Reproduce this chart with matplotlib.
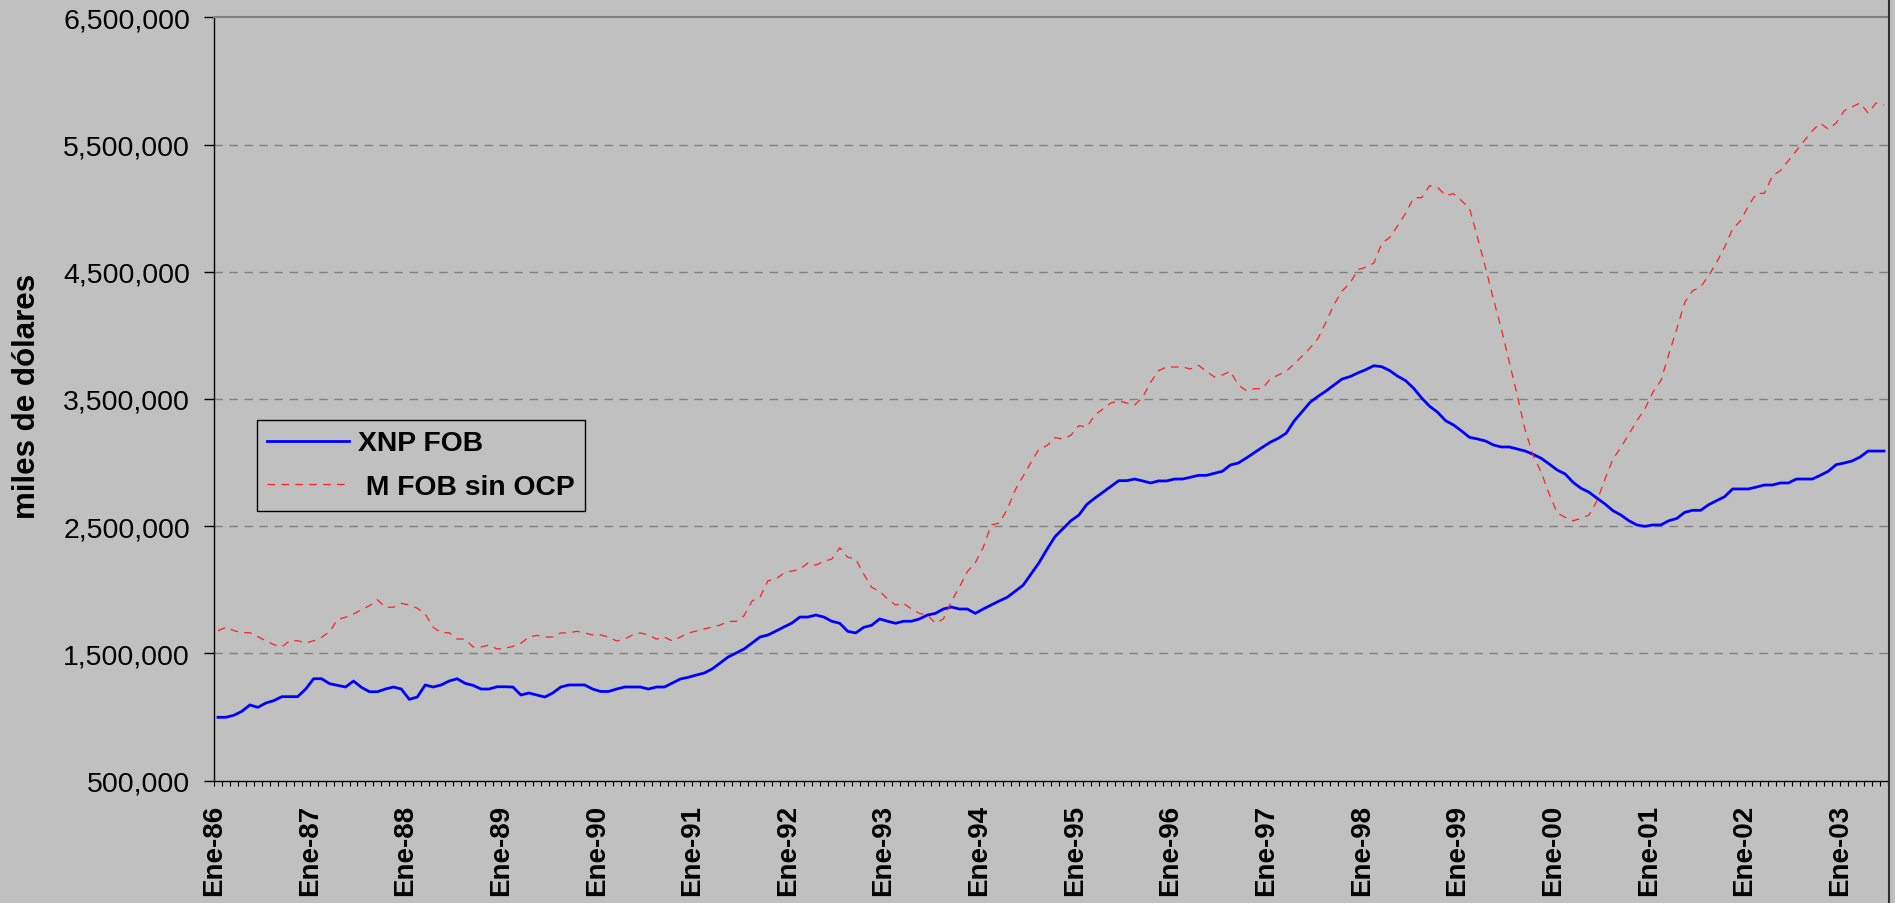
import numpy as np
import matplotlib
matplotlib.use("Agg")
import matplotlib.pyplot as plt
from matplotlib.ticker import FuncFormatter, MultipleLocator
from matplotlib.lines import Line2D

# ============ DATA (millones de miles de dólares, mensual Ene-86 ... Jun-03) ============
xnp_fob = [
    0.997, 0.997, 1.013, 1.044, 1.094, 1.075, 1.109, 1.128, 1.159, 1.159, 1.159, 1.219,
    1.300, 1.300, 1.261, 1.248, 1.235, 1.282, 1.232, 1.198, 1.198, 1.219, 1.235, 1.219,
    1.138, 1.156, 1.251, 1.235, 1.251, 1.282, 1.300, 1.264, 1.248, 1.219, 1.219, 1.237,
    1.237, 1.235, 1.172, 1.188, 1.172, 1.156, 1.188, 1.235, 1.251, 1.251, 1.251, 1.219,
    1.200, 1.200, 1.219, 1.235, 1.235, 1.235, 1.219, 1.235, 1.235, 1.266, 1.298, 1.311,
    1.329, 1.345, 1.377, 1.424, 1.471, 1.502, 1.534, 1.581, 1.628, 1.644, 1.675, 1.707,
    1.738, 1.785, 1.785, 1.801, 1.785, 1.752, 1.736, 1.673, 1.660, 1.704, 1.720, 1.770,
    1.752, 1.736, 1.752, 1.752, 1.770, 1.801, 1.814, 1.848, 1.864, 1.848, 1.848, 1.814,
    1.848, 1.880, 1.911, 1.940, 1.987, 2.035, 2.123, 2.212, 2.318, 2.417, 2.480, 2.542,
    2.587, 2.671, 2.720, 2.766, 2.813, 2.857, 2.857, 2.870, 2.855, 2.839, 2.855, 2.855,
    2.870, 2.870, 2.884, 2.899, 2.899, 2.915, 2.931, 2.980, 2.996, 3.035, 3.077, 3.119,
    3.159, 3.190, 3.230, 3.326, 3.399, 3.473, 3.520, 3.562, 3.609, 3.656, 3.675, 3.704,
    3.730, 3.761, 3.753, 3.722, 3.678, 3.643, 3.583, 3.507, 3.442, 3.395, 3.329, 3.295,
    3.248, 3.198, 3.185, 3.169, 3.138, 3.122, 3.122, 3.106, 3.090, 3.064, 3.033, 2.988,
    2.941, 2.910, 2.844, 2.797, 2.766, 2.719, 2.674, 2.621, 2.587, 2.542, 2.509, 2.498,
    2.509, 2.509, 2.542, 2.560, 2.608, 2.624, 2.624, 2.668, 2.700, 2.731, 2.792, 2.792,
    2.792, 2.807, 2.823, 2.823, 2.839, 2.839, 2.870, 2.870, 2.870, 2.899, 2.931, 2.983,
    2.996, 3.012, 3.043, 3.090, 3.090, 3.090,
]

m_fob_sin_ocp = [
    1.678, 1.704, 1.678, 1.662, 1.662, 1.631, 1.599, 1.568, 1.550, 1.599, 1.599, 1.581,
    1.599, 1.626, 1.670, 1.767, 1.783, 1.809, 1.843, 1.874, 1.921, 1.862, 1.862, 1.893,
    1.880, 1.854, 1.809, 1.704, 1.662, 1.662, 1.612, 1.612, 1.550, 1.550, 1.565, 1.534,
    1.539, 1.555, 1.579, 1.628, 1.641, 1.628, 1.628, 1.660, 1.660, 1.673, 1.660, 1.644,
    1.644, 1.628, 1.597, 1.612, 1.644, 1.660, 1.644, 1.612, 1.628, 1.597, 1.628, 1.660,
    1.675, 1.691, 1.707, 1.722, 1.751, 1.751, 1.796, 1.911, 1.943, 2.071, 2.084, 2.131,
    2.147, 2.160, 2.210, 2.194, 2.223, 2.241, 2.330, 2.255, 2.241, 2.123, 2.019, 1.987,
    1.927, 1.880, 1.893, 1.848, 1.814, 1.801, 1.736, 1.770, 1.909, 2.019, 2.142, 2.212,
    2.333, 2.509, 2.524, 2.629, 2.784, 2.892, 3.002, 3.106, 3.133, 3.195, 3.185, 3.214,
    3.290, 3.279, 3.373, 3.421, 3.468, 3.484, 3.468, 3.452, 3.513, 3.631, 3.722, 3.751,
    3.751, 3.751, 3.735, 3.764, 3.717, 3.672, 3.688, 3.717, 3.609, 3.565, 3.580, 3.580,
    3.656, 3.688, 3.717, 3.774, 3.837, 3.900, 3.976, 4.105, 4.241, 4.348, 4.409, 4.516,
    4.535, 4.568, 4.723, 4.770, 4.862, 4.961, 5.082, 5.082, 5.176, 5.163, 5.100, 5.113,
    5.058, 4.998, 4.770, 4.535, 4.285, 4.050, 3.788, 3.525, 3.250, 3.053, 2.923, 2.752,
    2.603, 2.569, 2.542, 2.561, 2.587, 2.700, 2.870, 3.028, 3.119, 3.224, 3.329, 3.421,
    3.552, 3.643, 3.850, 4.050, 4.259, 4.351, 4.380, 4.469, 4.574, 4.692, 4.836, 4.901,
    5.019, 5.116, 5.116, 5.255, 5.294, 5.373, 5.451, 5.530, 5.608, 5.667, 5.622, 5.669,
    5.766, 5.797, 5.826, 5.748, 5.826, 5.811,
]

year_labels = ["Ene-86", "Ene-87", "Ene-88", "Ene-89", "Ene-90", "Ene-91", "Ene-92",
               "Ene-93", "Ene-94", "Ene-95", "Ene-96", "Ene-97", "Ene-98", "Ene-99",
               "Ene-00", "Ene-01", "Ene-02", "Ene-03"]

y_ticks = [500000, 1500000, 2500000, 3500000, 4500000, 5500000, 6500000]

series_names = ["XNP FOB", " M FOB sin OCP"]

# ============ STYLE ============
plt.rcParams['font.family'] = ['Liberation Sans', 'DejaVu Sans']
plt.rcParams['lines.scale_dashes'] = False
BG = '#C0C0C0'

W, H = 1895, 904
fig = plt.figure(figsize=(W / 100, H / 100), dpi=100, facecolor=BG)

# plot area in pixels: left 214, right 1888, top 18, bottom 781.5
left, right, top, bottom = 214, 1888, 18.3, 781.5
ax = fig.add_axes([left / W, 1 - bottom / H, (right - left) / W, (bottom - top) / H])
ax.set_facecolor(BG)

n = len(xnp_fob)
x = np.arange(n) + 0.5

ax.plot(x, np.array(xnp_fob) * 1e6, color='#0000FF', lw=2.0, label=series_names[0],
        solid_joinstyle='round', zorder=3)
ax.plot(x, np.array(m_fob_sin_ocp) * 1e6, color='#FF2020', lw=0.9,
        dashes=(5.5, 4.5), label=series_names[1], zorder=3)

ax.set_xlim(0, n)
ax.set_ylim(y_ticks[0], y_ticks[-1])

# ============ AXES ============
ax.set_yticks(y_ticks)
ax.yaxis.set_major_formatter(FuncFormatter(lambda v, p: f"{int(v):,}"))
ax.tick_params(axis='y', direction='out', length=7.2, width=1, color='black',
               labelsize=20.5, pad=10)

ax.set_xticks(np.arange(0, n, 12))
ax.set_xticklabels(year_labels, rotation=90, fontsize=20, fontweight='bold')
ax.xaxis.set_minor_locator(MultipleLocator(1))
ax.tick_params(axis='x', which='both', direction='out', length=3.6, width=0.8,
               color='black', pad=13)

for yv in y_ticks[1:-1]:
    ax.axhline(yv, color='#808080', lw=1.0, dashes=(6, 4.8), zorder=1)

ax.spines['left'].set_color('black')
ax.spines['bottom'].set_color('black')
ax.spines['left'].set_linewidth(1)
ax.spines['bottom'].set_linewidth(1)
ax.spines['top'].set_color('#808080')
ax.spines['top'].set_linewidth(1.5)
ax.spines['right'].set_visible(False)

# chart border on the right edge
fig.add_artist(Line2D([1888.5 / W, 1888.5 / W], [0, 1], transform=fig.transFigure,
                      color='#303030', lw=1.5))

fig.text(27 / W, 1 - 396 / H, "miles de dólares", rotation=90, ha='center', va='center',
         fontsize=22.5, fontweight='bold')

# ============ LEGEND ============
leg = ax.legend(loc='upper left', bbox_to_anchor=(256.7 / W, 1 - 420.7 / H),
                bbox_transform=fig.transFigure, frameon=True, fancybox=False,
                prop={'weight': 'bold', 'size': 20.3}, handlelength=2.9,
                handletextpad=0.3, labelspacing=0.62, borderpad=0.38,
                borderaxespad=0)
leg.get_frame().set_facecolor(BG)
leg.get_frame().set_edgecolor('black')
leg.get_frame().set_linewidth(1)
leg.get_frame().set_alpha(1)

plt.savefig("out.png", dpi=100, facecolor=BG)
